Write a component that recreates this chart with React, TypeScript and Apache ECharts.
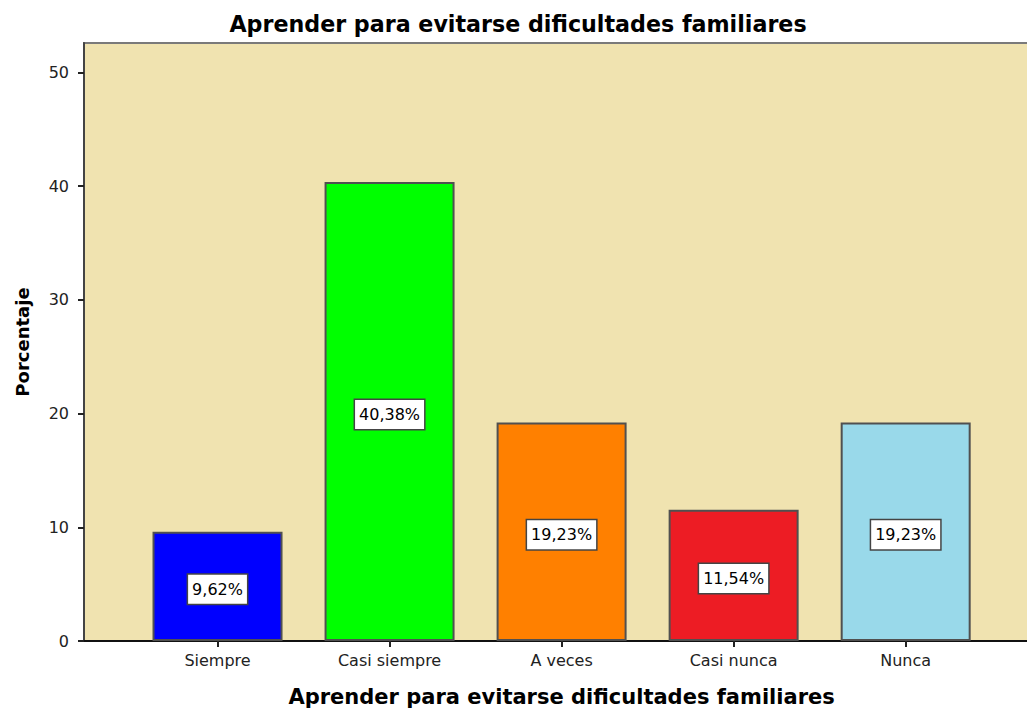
import React, { useEffect, useRef } from "react";
import * as echarts from "echarts";

const categories = ["Siempre", "Casi siempre", "A veces", "Casi nunca", "Nunca"];
const values = [9.62, 40.38, 19.23, 11.54, 19.23];
const barColors = ["#0000FF", "#00FF00", "#FF8000", "#ED1C24", "#99D9EA"];
const yTicks = [0, 10, 20, 30, 40, 50];
const titleText = "Aprender para evitarse dificultades familiares";
const yName = "Porcentaje";

export default function App() {
  const ref = useRef<HTMLDivElement>(null);
  useEffect(() => {
    if (!ref.current) return;
    const chart = echarts.init(ref.current, null, { renderer: "svg" });
    const yMax = 52.6;
    chart.setOption({
      animation: false,
      backgroundColor: "#ffffff",
      title: {
        text: titleText,
        left: 518,
        top: 13,
        padding: 0,
        textAlign: "center",
        textStyle: { fontFamily: "DejaVu Sans", fontWeight: "bold", fontSize: 22.2, color: "#000" },
      },
      grid: [
        { left: 131.5, right: 35.3, top: 43, bottom: 67, show: false, outerBoundsMode: "none", containLabel: false },
        {
          left: 84,
          right: -3,
          top: 43,
          bottom: 67,
          show: true,
          outerBoundsMode: "none",
          containLabel: false,
          backgroundColor: "#F0E3B0",
          borderColor: "#7a7a7a",
          borderWidth: 2,
        },
      ],
      xAxis: [
        {
          type: "category",
          gridIndex: 0,
          data: categories,
          axisLine: { show: false },
          axisTick: { show: true, alignWithLabel: true, length: 6, lineStyle: { color: "#222", width: 2 } },
          axisLabel: { fontFamily: "DejaVu Sans", fontSize: 16, color: "#222", margin: 11 },
          name: titleText,
          nameLocation: "middle",
          nameGap: 45,
          nameTextStyle: { fontFamily: "DejaVu Sans", fontWeight: "bold", fontSize: 21, color: "#000" },
        },
        {
          type: "value",
          gridIndex: 1,
          min: 0,
          max: 1,
          axisLine: { show: true, lineStyle: { color: "#111", width: 2 } },
          axisTick: { show: false },
          axisLabel: { show: false },
          splitLine: { show: false },
        },
      ],
      yAxis: [
        {
          type: "value",
          gridIndex: 0,
          min: 0,
          max: yMax,
          show: false,
          splitLine: { show: false },
        },
        {
          type: "value",
          gridIndex: 1,
          min: 0,
          max: yMax,
          interval: 10,
          axisLine: { show: true, lineStyle: { color: "#444", width: 2 } },
          axisTick: { show: true, length: 6, customValues: yTicks, lineStyle: { color: "#222", width: 2 } },
          axisLabel: { fontFamily: "DejaVu Sans", fontSize: 16, color: "#222", margin: 15, customValues: yTicks },
          splitLine: { show: false },
          name: yName,
          nameLocation: "middle",
          nameGap: 53,
          nameTextStyle: { fontFamily: "DejaVu Sans", fontWeight: "bold", fontSize: 18, color: "#000" },
        },
      ],
      series: [
        {
          type: "bar",
          xAxisIndex: 0,
          yAxisIndex: 0,
          barWidth: 130,
          data: values.map((v, i) => ({
            value: v,
            itemStyle: { color: barColors[i], borderColor: "#505050", borderWidth: 2 },
          })),
          label: {
            show: true,
            position: "inside",
            offset: [0, 3],
            formatter: (p: any) => p.value.toFixed(2).replace(".", ",") + "%",
            fontFamily: "DejaVu Sans",
            fontSize: 16,
            lineHeight: 19,
            color: "#000",
            backgroundColor: "#ffffff",
            borderColor: "#444",
            borderWidth: 1.5,
            padding: [5, 4],
          },
        },
      ],
    });
    return () => chart.dispose();
  }, []);
  return <div ref={ref} style={{ position: "absolute", left: 0, top: 0, width: 1027, height: 708 }} />;
}
